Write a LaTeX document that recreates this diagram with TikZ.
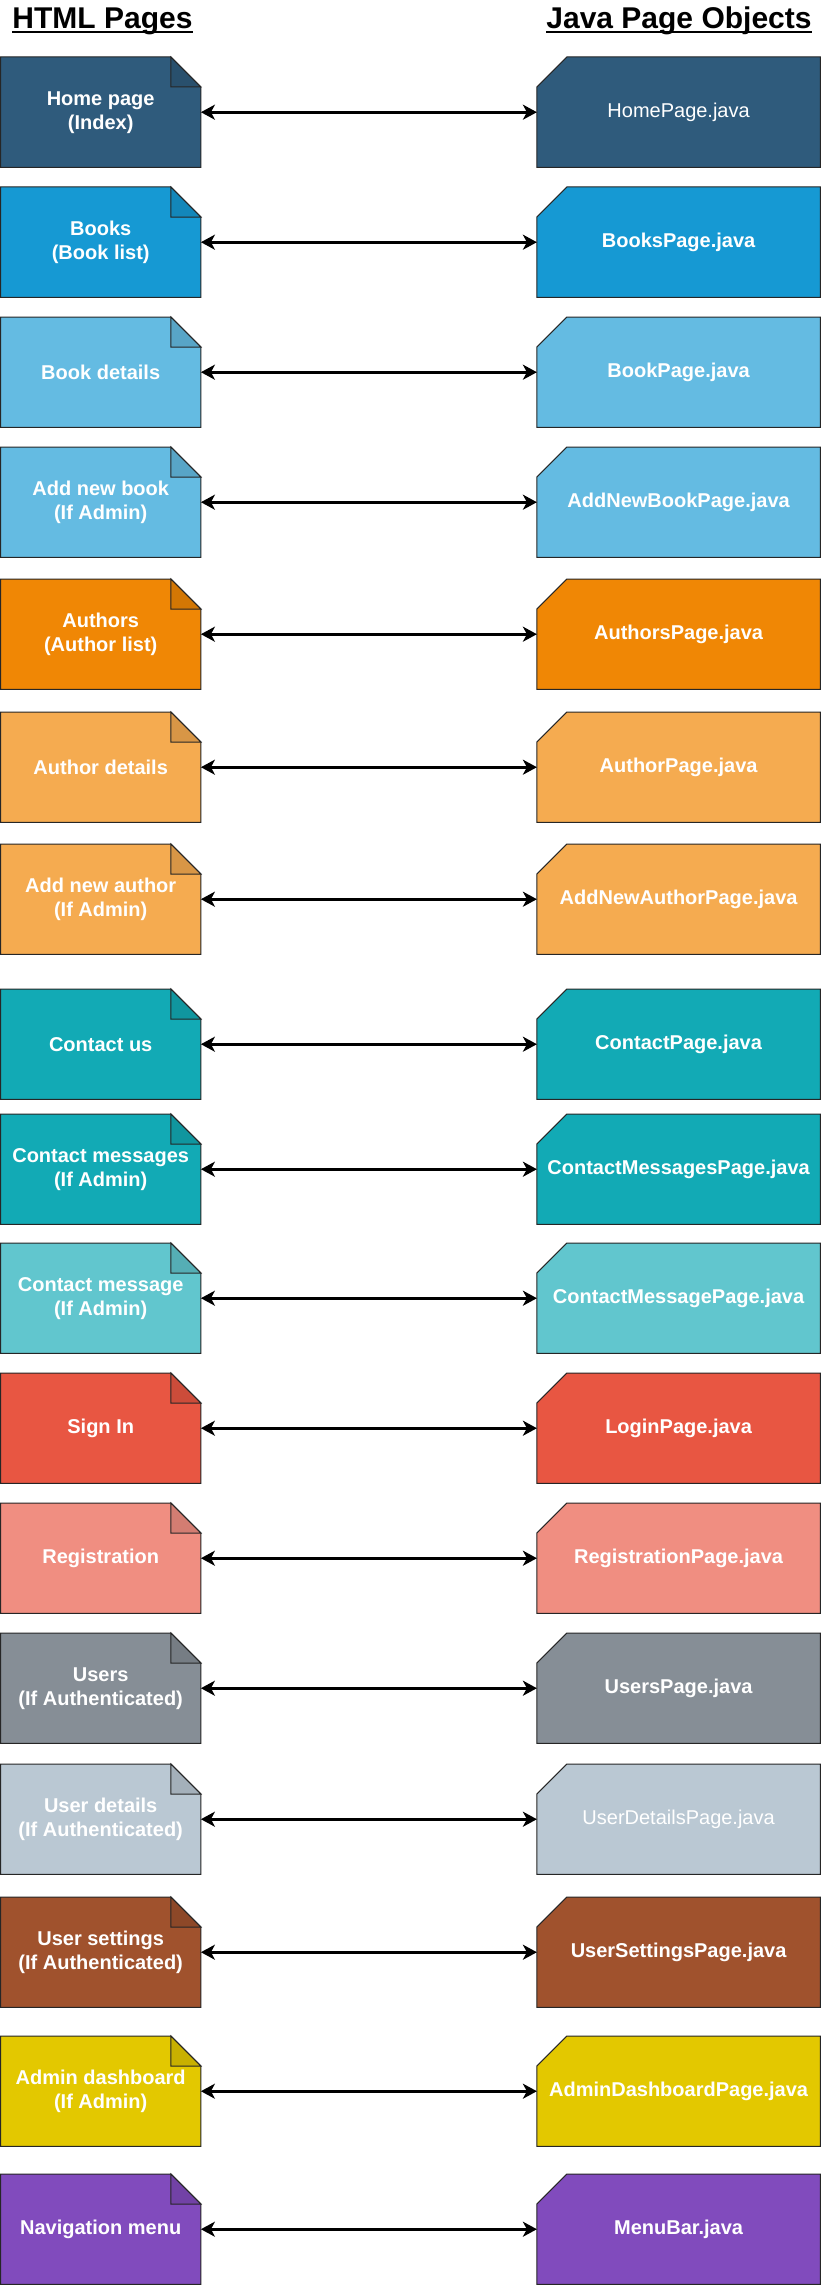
\documentclass[tikz,border=0pt]{standalone}
\usepackage{fontspec}
\setmainfont{Liberation Sans}
\usetikzlibrary{arrows.meta,positioning,backgrounds}

\definecolor{blueA}{HTML}{2F5B7C}
\definecolor{blueB}{HTML}{1699D3}
\definecolor{blueC}{HTML}{64BBE2}
\definecolor{orangeA}{HTML}{F08705}
\definecolor{orangeB}{HTML}{F5AB50}
\definecolor{tealA}{HTML}{12AAB5}
\definecolor{tealB}{HTML}{61C6CE}
\definecolor{redA}{HTML}{E85642}
\definecolor{redB}{HTML}{F08E81}
\definecolor{grayA}{HTML}{868E96}
\definecolor{grayB}{HTML}{BAC8D3}
\definecolor{brownA}{HTML}{A0522D}
\definecolor{yellowA}{HTML}{E3C800}
\definecolor{purpleA}{HTML}{814BBD}

\begin{document}
\begin{tikzpicture}[x=1pt, y=-1pt]
\useasboundingbox (0,0) rectangle (822,2285);

% Define styles
\tikzstyle{title} = [font=\bfseries\fontsize{30}{36}\selectfont, anchor=base, inner sep=0pt]
\tikzstyle{html} = [rectangle, minimum width=200pt, minimum height=110pt, inner sep=0pt, align=center, text=white, font=\bfseries\fontsize{20}{24}\selectfont, anchor=north west]
\tikzstyle{java} = [html, minimum width=283pt]
\tikzstyle{sheet} = [draw=black!85, line width=1pt]
\tikzstyle{rule} = [line width=2pt]
\tikzstyle{link} = [line width=3pt, {Stealth[length=14pt, width=15pt, inset=4pt]}-{Stealth[length=14pt, width=15pt, inset=4pt]}]

% TITLES
\node (htmltitle) [title] at (102.5,29) {HTML Pages};
\node (javatitle) [title] at (679,29) {Java Page Objects};
\draw [rule] ([yshift=-3.5pt]htmltitle.base west) -- ([yshift=-3.5pt]htmltitle.base east);
\draw [rule] ([yshift=-3.5pt]javatitle.base west) -- ([yshift=-3.5pt]javatitle.base east);

% HTML PAGES
\node (home) [html] at (0.5,57) {Home page\\(Index)};
\node (books) [html] at (0.5,187) {Books\\(Book list)};
\node (book) [html] at (0.5,317) {Book details};
\node (addbook) [html] at (0.5,447) {Add new book\\(If Admin)};
\node (authors) [html] at (0.5,579) {Authors\\(Author list)};
\node (author) [html] at (0.5,712) {Author details};
\node (addauthor) [html] at (0.5,844) {Add new author\\(If Admin)};
\node (contact) [html] at (0.5,989) {Contact us};
\node (messages) [html] at (0.5,1114) {Contact messages\\(If Admin)};
\node (message) [html] at (0.5,1243) {Contact message\\(If Admin)};
\node (signin) [html] at (0.5,1373) {Sign In};
\node (register) [html] at (0.5,1503) {Registration};
\node (users) [html] at (0.5,1633) {Users\\(If Authenticated)};
\node (user) [html] at (0.5,1764) {User details\\(If Authenticated)};
\node (settings) [html] at (0.5,1897) {User settings\\(If Authenticated)};
\node (admin) [html] at (0.5,2036) {Admin dashboard\\(If Admin)};
\node (navmenu) [html] at (0.5,2174) {Navigation menu};

% JAVA PAGE OBJECTS
\node (java-home) [java, right=336pt of home] {\mdseries HomePage.java};
\node (java-books) [java, right=336pt of books] {BooksPage.java};
\node (java-book) [java, right=336pt of book] {BookPage.java};
\node (java-addbook) [java, right=336pt of addbook] {AddNewBookPage.java};
\node (java-authors) [java, right=336pt of authors] {AuthorsPage.java};
\node (java-author) [java, right=336pt of author] {AuthorPage.java};
\node (java-addauthor) [java, right=336pt of addauthor] {AddNewAuthorPage.java};
\node (java-contact) [java, right=336pt of contact] {ContactPage.java};
\node (java-messages) [java, right=336pt of messages] {ContactMessagesPage.java};
\node (java-message) [java, right=336pt of message] {ContactMessagePage.java};
\node (java-signin) [java, right=336pt of signin] {LoginPage.java};
\node (java-register) [java, right=336pt of register] {RegistrationPage.java};
\node (java-users) [java, right=336pt of users] {UsersPage.java};
\node (java-user) [java, right=336pt of user] {\mdseries UserDetailsPage.java};
\node (java-settings) [java, right=336pt of settings] {UserSettingsPage.java};
\node (java-admin) [java, right=336pt of admin] {AdminDashboardPage.java};
\node (java-navmenu) [java, right=336pt of navmenu] {MenuBar.java};

% Page shapes behind the texts
\begin{scope}[on background layer]
\foreach \n/\c in {home/blueA, books/blueB, book/blueC, addbook/blueC, authors/orangeA, author/orangeB, addauthor/orangeB, contact/tealA, messages/tealA, message/tealB, signin/redA, register/redB, users/grayA, user/grayB, settings/brownA, admin/yellowA, navmenu/purpleA} {
  \filldraw [sheet, fill=\c] (\n.south west) |- ([xshift=-30pt]\n.north east) -- ([yshift=-30pt]\n.north east) -- (\n.south east) -- cycle;
  \filldraw [sheet, fill=\c!88!black] ([xshift=-30pt]\n.north east) |- ([yshift=-30pt]\n.north east) -- cycle;
  \filldraw [sheet, fill=\c] (java-\n.south west) -- ([yshift=-30pt]java-\n.north west) -- ([xshift=30pt]java-\n.north west) -- (java-\n.north east) -- (java-\n.south east) -- cycle;
}
\end{scope}

% Links between pages and page objects
\foreach \n in {home, books, book, addbook, authors, author, addauthor, contact, messages, message, signin, register, users, user, settings, admin, navmenu}
  \draw [link] (\n.east) -- (java-\n.west);

\end{tikzpicture}
\end{document}
